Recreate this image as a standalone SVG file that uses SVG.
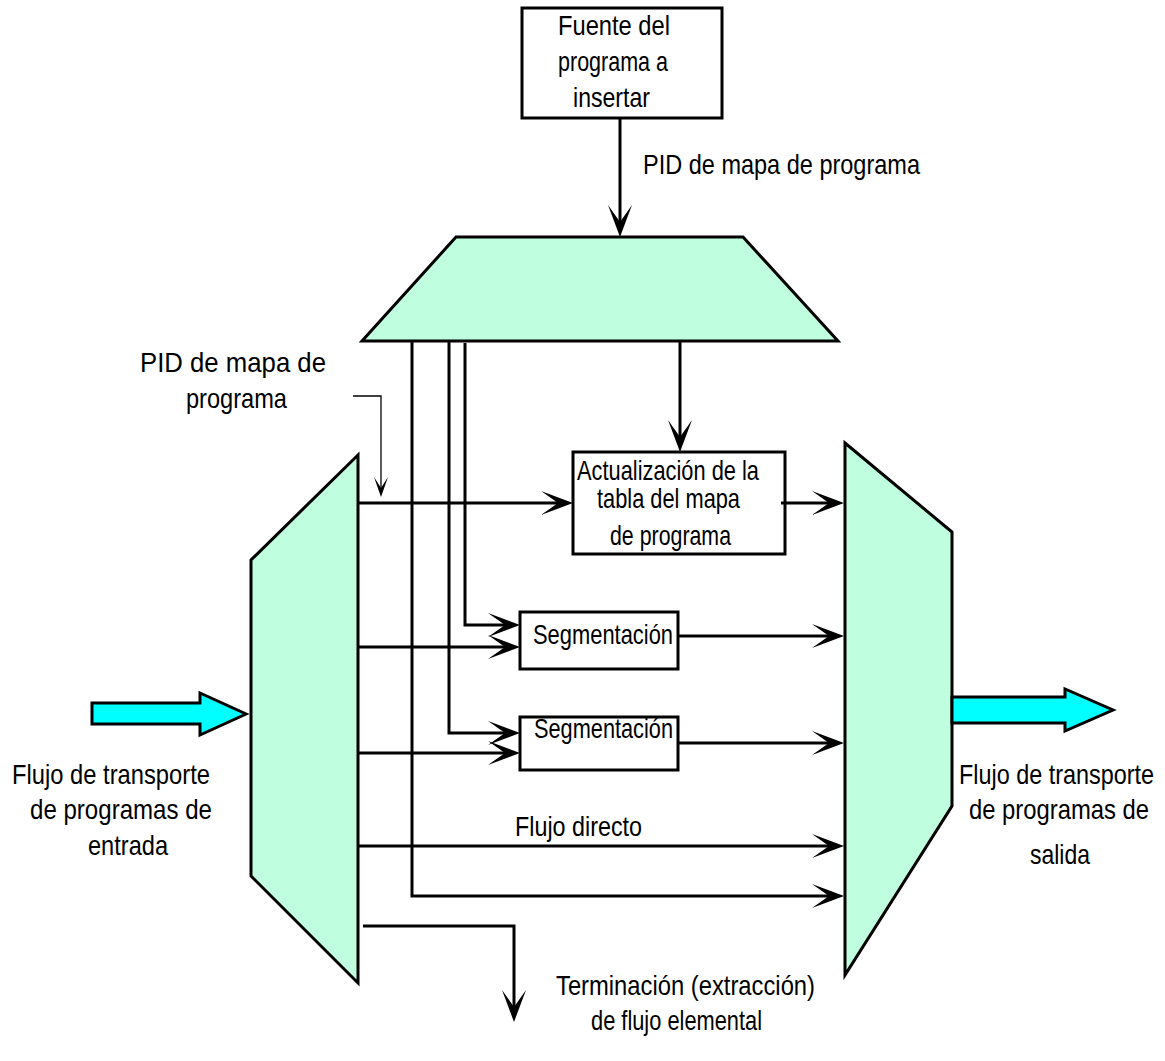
<svg xmlns="http://www.w3.org/2000/svg" width="1165" height="1061" viewBox="0 0 1165 1061">
  <style>
    .lbl { font-family: "Liberation Sans Narrow", "Liberation Sans", Arial, sans-serif; font-size: 28px; fill: #000; }
    .box { fill: #fff; stroke: #000; stroke-width: 3; }
    .mux { fill: #BFFFDF; stroke: #000; stroke-width: 3; stroke-linejoin: miter; }
    .fat { fill: #00FFFF; stroke: #000; stroke-width: 3; }
    .wire { fill: none; stroke: #000; stroke-width: 3; }
    .thin { fill: none; stroke: #000; stroke-width: 1.3; }
  </style>
  <defs>
    <marker id="head" markerUnits="userSpaceOnUse" markerWidth="44" markerHeight="30" viewBox="-30 -13 44 26" refX="0" refY="0" orient="auto">
      <path d="M6,0 L-26,-12 L-9,0 L-26,12 Z" fill="#000"/>
    </marker>
    <marker id="headSmall" markerUnits="userSpaceOnUse" markerWidth="30" markerHeight="20" viewBox="-20 -9 30 18" refX="0" refY="0" orient="auto">
      <path d="M3,0 L-17,-7 L-6,0 L-17,7 Z" fill="#000"/>
    </marker>
  </defs>

  <rect width="1165" height="1061" fill="#fff"/>

  <!-- source of the program to insert -->
  <g id="source">
    <rect class="box" x="522" y="8" width="200" height="110"/>
    <text class="lbl" x="558" y="35" textLength="112" lengthAdjust="spacingAndGlyphs">Fuente del</text>
    <text class="lbl" x="558" y="71" textLength="110" lengthAdjust="spacingAndGlyphs">programa a</text>
    <text class="lbl" x="573" y="107" textLength="77" lengthAdjust="spacingAndGlyphs">insertar</text>
  </g>

  <!-- demultiplexer of inserted program -->
  <g id="demux-insert">
    <polygon class="mux" points="456,237 743,237 838,341 362,341"/>
  </g>

  <!-- input demultiplexer -->
  <g id="demux-input">
    <polygon class="mux" points="358,455 358,983 251,876 251,560"/>
  </g>

  <!-- output multiplexer -->
  <g id="mux-output">
    <polygon class="mux" points="845,443 952,532 952,806 845,975"/>
  </g>

  <g id="pmt-update">
    <rect class="box" x="573" y="452" width="212" height="102"/>
    <text class="lbl" x="577" y="480" textLength="182" lengthAdjust="spacingAndGlyphs">Actualización de la</text>
    <text class="lbl" x="597" y="508" textLength="143" lengthAdjust="spacingAndGlyphs">tabla del mapa</text>
    <text class="lbl" x="610" y="545" textLength="121" lengthAdjust="spacingAndGlyphs">de programa</text>
  </g>

  <g id="segment-1">
    <rect class="box" x="520" y="612" width="158" height="57"/>
    <text class="lbl" x="533" y="644" textLength="140" lengthAdjust="spacingAndGlyphs">Segmentación</text>
  </g>

  <g id="segment-2">
    <rect class="box" x="520" y="717" width="158" height="53"/>
    <text class="lbl" x="534" y="738" textLength="139" lengthAdjust="spacingAndGlyphs">Segmentación</text>
  </g>

  <!-- transport stream in / out -->
  <g id="ts-in">
    <polygon class="fat" points="92,703 200,703 200,693 246,714 200,735 200,724 92,724"/>
    <text class="lbl" x="12" y="784" textLength="198" lengthAdjust="spacingAndGlyphs">Flujo de transporte</text>
    <text class="lbl" x="30" y="819" textLength="182" lengthAdjust="spacingAndGlyphs">de programas de</text>
    <text class="lbl" x="88" y="855" textLength="80" lengthAdjust="spacingAndGlyphs">entrada</text>
  </g>

  <g id="ts-out">
    <polygon class="fat" points="952,697 1065,697 1065,689 1113,710 1065,731 1065,723 952,723"/>
    <!-- narrowed horizontally so the lines fit before the right edge -->
    <text class="lbl" transform="translate(959,784) scale(0.82,1)" textLength="237.8" lengthAdjust="spacingAndGlyphs">Flujo de transporte</text>
    <text class="lbl" transform="translate(969,819) scale(0.82,1)" textLength="219.5" lengthAdjust="spacingAndGlyphs">de programas de</text>
    <text class="lbl" x="1030" y="864" textLength="60" lengthAdjust="spacingAndGlyphs">salida</text>
  </g>

  <g id="labels">
    <text class="lbl" x="643" y="174" textLength="277" lengthAdjust="spacingAndGlyphs">PID de mapa de programa</text>
    <text class="lbl" x="140" y="372" textLength="186" lengthAdjust="spacingAndGlyphs">PID de mapa de</text>
    <text class="lbl" x="186" y="408" textLength="101" lengthAdjust="spacingAndGlyphs">programa</text>
    <text class="lbl" x="515" y="836" textLength="127" lengthAdjust="spacingAndGlyphs">Flujo directo</text>
    <text class="lbl" x="556" y="995" textLength="259" lengthAdjust="spacingAndGlyphs">Terminación (extracción)</text>
    <text class="lbl" x="591" y="1030" textLength="171" lengthAdjust="spacingAndGlyphs">de flujo elemental</text>
  </g>

  <g id="connectors">
    <path class="wire" d="M620,118 V231" marker-end="url(#head)"/>
    <path class="wire" d="M680,341 V446" marker-end="url(#head)"/>
    <path class="wire" d="M465,343 V625 H514" marker-end="url(#head)"/>
    <path class="wire" d="M449,341 V733 H514" marker-end="url(#head)"/>
    <path class="wire" d="M412,341 V896 H838" marker-end="url(#head)"/>
    <path class="wire" d="M358,503 H567" marker-end="url(#head)"/>
    <path class="wire" d="M781,503 H838" marker-end="url(#head)"/>
    <path class="wire" d="M358,647 H514" marker-end="url(#head)"/>
    <path class="wire" d="M678,636 H838" marker-end="url(#head)"/>
    <path class="wire" d="M358,753 H514" marker-end="url(#head)"/>
    <path class="wire" d="M678,743 H838" marker-end="url(#head)"/>
    <path class="wire" d="M358,846 H838" marker-end="url(#head)"/>
    <path class="wire" d="M363,926 H514 V1016" marker-end="url(#head)"/>
    <path class="thin" d="M353,396 H381 V494" marker-end="url(#headSmall)"/>
  </g>
</svg>
